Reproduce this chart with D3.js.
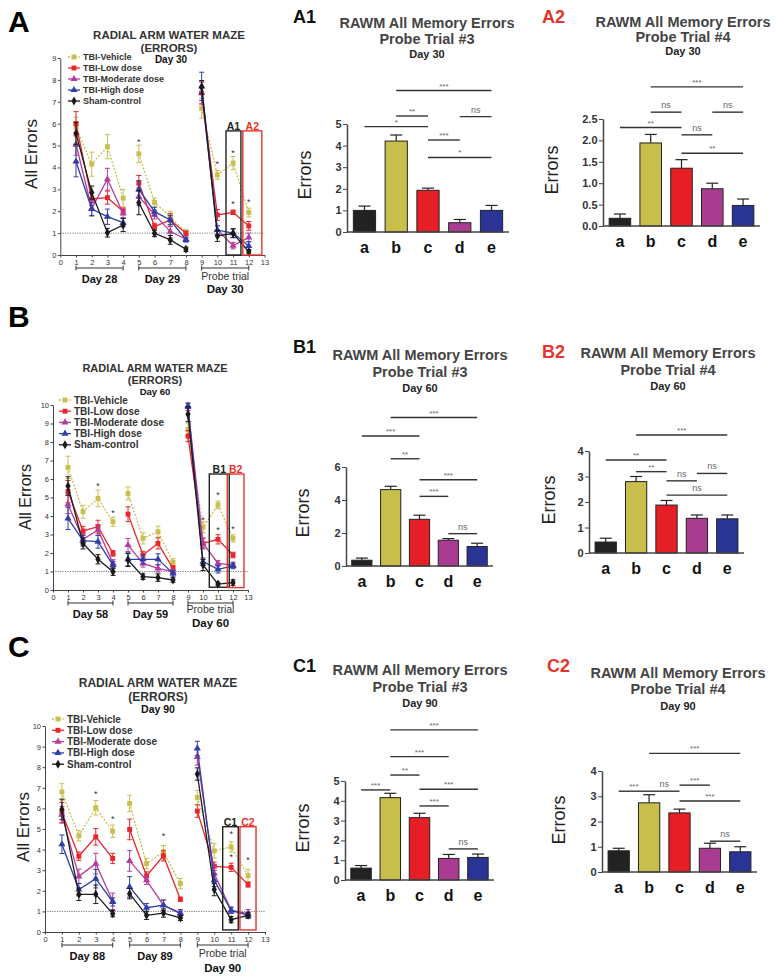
<!DOCTYPE html>
<html>
<head>
<meta charset="utf-8">
<script src="https://cdn.jsdelivr.net/npm/d3@7"></script>
<style>
body { margin: 0; background: #fff; }
svg { display: block; font-family: Arial, "Liberation Sans", sans-serif; }
</style>
</head>
<body>
<script>
// ---- data ----
var groupNames = ["TBI-Vehicle", "TBI-Low dose", "TBI-Moderate dose", "TBI-High dose", "Sham-control"];
var sessions = [1, 2, 3, 4, 5, 6, 7, 8, 9, 10, 11, 12];

// panel A (day 28-30)
var A_vehicle = [5.85, 4.15, 4.95, 2.6, 4.62, 2.4, 1.75, 1.02, 6.7, 3.66, 4.2, 1.94];
var A_vehicleErr = [0.45, 0.55, 0.55, 0.4, 0.4, 0.2, 0.25, 0.15, 0.45, 0.2, 0.3, 0.2];
var A_low = [6.0, 2.56, 2.62, 2.0, 3.28, 1.3, 1.6, 0.99, 7.4, 1.83, 1.95, 1.33];
var A_lowErr = [0.55, 0.3, 0.3, 0.15, 0.35, 0.15, 0.3, 0.1, 0.5, 0.25, 0.1, 0.2];
var A_moderate = [5.06, 2.13, 3.46, 1.9, 2.67, 1.85, 1.07, 0.72, 7.4, 1.14, 0.43, 0.8];
var A_moderateErr = [0.5, 0.35, 0.5, 0.2, 0.4, 0.2, 0.3, 0.1, 0.5, 0.2, 0.15, 0.2];
var A_high = [4.27, 2.1, 1.75, 1.48, 3.0, 1.98, 1.6, 0.69, 7.7, 1.14, 1.0, 0.41];
var A_highErr = [0.7, 0.3, 0.35, 0.2, 0.4, 0.2, 0.2, 0.1, 0.65, 0.2, 0.2, 0.2];
var A_sham = [5.56, 2.85, 1.02, 1.37, 2.39, 0.99, 0.69, 0.26, 7.67, 0.87, 0.99, 0.15];
var A_shamErr = [0.5, 0.3, 0.2, 0.3, 0.55, 0.15, 0.2, 0.1, 0.3, 0.25, 0.2, 0.1];
var A_stars = [[5, 5.26], [10, 4.24], [11, 4.73], [11, 2.44], [12, 2.5]];
var A_days = ["Day 28", "Day 29", "Day 30"];

// panel B (day 58-60)
var B_vehicle = [6.63, 4.23, 4.95, 3.69, 5.22, 2.79, 3.15, 1.5, 8.68, 3.39, 4.6, 2.79];
var B_vehicleErr = [0.6, 0.35, 0.45, 0.25, 0.35, 0.3, 0.3, 0.2, 0.35, 0.3, 0.2, 0.2];
var B_low = [5.32, 3.19, 3.42, 1.98, 4.1, 1.89, 2.52, 1.17, 8.32, 2.52, 2.74, 1.89];
var B_lowErr = [0.6, 0.25, 0.35, 0.15, 0.4, 0.2, 0.3, 0.15, 0.3, 0.25, 0.25, 0.15];
var B_moderate = [4.63, 2.74, 3.24, 1.44, 2.43, 1.44, 1.17, 0.99, 9.9, 2.52, 1.44, 1.35];
var B_moderateErr = [0.5, 0.3, 0.3, 0.2, 0.35, 0.2, 0.2, 0.1, 0.2, 0.3, 0.15, 0.15];
var B_high = [3.87, 2.67, 2.61, 1.35, 1.66, 1.66, 1.66, 0.9, 9.95, 1.53, 1.12, 1.3];
var B_highErr = [0.6, 0.3, 0.35, 0.2, 0.35, 0.25, 0.3, 0.15, 0.15, 0.2, 0.2, 0.15];
var B_sham = [5.62, 2.52, 1.66, 0.99, 1.62, 0.72, 0.67, 0.54, 9.5, 1.35, 0.32, 0.4];
var B_shamErr = [0.5, 0.3, 0.25, 0.2, 0.35, 0.15, 0.2, 0.12, 0.4, 0.3, 0.1, 0.15];
var B_stars = [[3, 5.73], [4, 4.29], [10, 3.87], [11, 5.26], [11, 3.33], [12, 3.42]];
var B_days = ["Day 58", "Day 59", "Day 60"];

// panel C (day 88-90)
var C_vehicle = [6.8, 4.67, 6.03, 4.89, 6.24, 3.32, 3.89, 2.35, 6.53, 3.94, 4.13, 2.74];
var C_vehicleErr = [0.4, 0.25, 0.35, 0.3, 0.4, 0.25, 0.3, 0.25, 0.35, 0.35, 0.25, 0.3];
var C_low = [5.79, 3.68, 4.62, 3.57, 4.98, 2.72, 3.7, 1.59, 5.87, 3.19, 3.14, 2.3];
var C_lowErr = [0.5, 0.2, 0.4, 0.25, 0.5, 0.2, 0.25, 0.1, 0.3, 0.2, 0.2, 0.12];
var C_moderate = [5.7, 2.7, 3.32, 1.49, 3.45, 2.51, 1.3, 0.89, 8.5, 2.84, 1.05, 0.89];
var C_moderateErr = [0.4, 0.35, 0.5, 0.4, 0.5, 0.2, 0.25, 0.2, 0.4, 0.4, 0.15, 0.2];
var C_high = [4.26, 2.06, 2.59, 1.46, 2.19, 1.18, 1.3, 0.92, 8.91, 2.51, 1.05, 0.81];
var C_highErr = [0.45, 0.3, 0.45, 0.2, 0.5, 0.2, 0.25, 0.15, 0.35, 0.3, 0.15, 0.15];
var C_sham = [5.95, 1.83, 1.83, 0.89, 1.86, 0.81, 0.92, 0.68, 7.67, 2.06, 0.6, 0.81];
var C_shamErr = [0.5, 0.3, 0.45, 0.15, 0.25, 0.2, 0.2, 0.12, 0.3, 0.3, 0.15, 0.12];
var C_stars = [[3, 6.8], [4, 5.6], [7, 4.75], [11, 4.86], [11, 3.73], [12, 3.57]];
var C_days = ["Day 88", "Day 89", "Day 90"];

// bar panels: groups a..e
var barGroups = ["a", "b", "c", "d", "e"];
var A1_means = [1.0, 4.21, 1.93, 0.43, 1.0];
var A1_sem = [0.2, 0.28, 0.1, 0.15, 0.23];
var A1_sig = [["b", "e", 6.55, "***"], ["b", "c", 5.37, "**"], ["d", "e", 5.34, "ns"], ["a", "c", 4.88, "*"], ["c", "d", 4.26, "***"], ["c", "e", 3.45, "*"]];
var A2_means = [0.18, 1.94, 1.35, 0.87, 0.48];
var A2_sem = [0.1, 0.2, 0.2, 0.13, 0.15];
var A2_sig = [["b", "e", 3.25, "***"], ["b", "c", 2.66, "ns"], ["d", "e", 2.66, "ns"], ["a", "c", 2.3, "**"], ["c", "d", 2.13, "ns"], ["c", "e", 1.7, "**"]];
var B1_means = [0.35, 4.63, 2.83, 1.56, 1.18];
var B1_sem = [0.13, 0.2, 0.25, 0.1, 0.2];
var B1_sig = [["b", "e", 9.0, "***"], ["a", "c", 7.88, "***"], ["b", "c", 6.5, "**"], ["c", "e", 5.23, "***"], ["c", "d", 4.22, "***"], ["d", "e", 1.96, "ns"]];
var B2_means = [0.43, 2.8, 1.88, 1.36, 1.34];
var B2_sem = [0.15, 0.2, 0.18, 0.13, 0.15];
var B2_sig = [["b", "e", 4.63, "***"], ["a", "c", 3.65, "**"], ["b", "c", 3.19, "**"], ["c", "d", 2.83, "ns"], ["d", "e", 3.12, "ns"], ["c", "e", 2.27, "ns"]];
var C1_means = [0.6, 4.16, 3.15, 1.09, 1.14];
var C1_sem = [0.13, 0.22, 0.22, 0.2, 0.17];
var C1_sig = [["b", "e", 7.58, "***"], ["b", "d", 6.23, "***"], ["b", "c", 5.3, "**"], ["a", "b", 4.55, "***"], ["c", "e", 4.58, "***"], ["c", "d", 3.74, "***"], ["d", "e", 1.57, "ns"]];
var C2_means = [0.84, 2.74, 2.34, 0.94, 0.8];
var C2_sem = [0.1, 0.32, 0.15, 0.2, 0.2];
var C2_sig = [["b", "e", 4.7, "***"], ["a", "b", 3.2, "***"], ["b", "c", 3.2, "ns"], ["c", "d", 3.44, "***"], ["c", "e", 2.81, "***"], ["d", "e", 1.22, "ns"]];

// ---- styles ----
var groupStyles = [
  { color: "#c9bf4e", shape: d3.symbolSquare, size: 24, dash: "2,1.6" },
  { color: "#e8262b", shape: d3.symbolSquare, size: 24, dash: null },
  { color: "#b23d9c", shape: d3.symbolTriangle, size: 22, dash: null },
  { color: "#2f3ea8", shape: d3.symbolTriangle, size: 22, dash: null },
  { color: "#1a1a1a", shape: d3.symbolDiamond, size: 24, dash: null }
];
var barColors = ["#222222", "#c8be4b", "#e61e25", "#a93c91", "#2a3494"];
var redLabel = "#e5352b";
var blocks = [[1, 4], [5, 8], [9, 12]];

var svg = d3.select("body").append("svg").attr("width", 778).attr("height", 979);
svg.append("rect").attr("width", 778).attr("height", 979).attr("fill", "#fff");

function styleAxis(a, fs) {
  a.selectAll("text").attr("font-size", fs).attr("fill", "#333").attr("font-family", "Arial, 'Liberation Sans', sans-serif");
  a.selectAll("path, line").attr("stroke", "#444");
}

function linePanel(p) {
  var x = d3.scaleLinear().domain([0, 13]).range([p.x0, p.x1]);
  var y = d3.scaleLinear().domain([0, p.ymax]).range([p.y0, p.yTop]);
  var g = svg.append("g");

  g.append("text").attr("x", 8).attr("y", p.letterY).attr("font-size", 30).attr("font-weight", "bold").text(p.letter);

  // titles
  g.append("text").attr("x", p.titleX).attr("y", p.titleY[0]).attr("text-anchor", "middle")
    .attr("font-size", p.titleSize).attr("font-weight", "bold").attr("fill", "#333").text("RADIAL ARM WATER MAZE");
  g.append("text").attr("x", p.titleX).attr("y", p.titleY[1]).attr("text-anchor", "middle")
    .attr("font-size", p.titleSize).attr("font-weight", "bold").attr("fill", "#333").text("(ERRORS)");
  g.append("text").attr("x", p.dayX).attr("y", p.titleY[2]).attr("text-anchor", "middle")
    .attr("font-size", p.daySize).attr("font-weight", "bold").attr("fill", "#111").text(p.days[2]);

  // reference line at 1 error
  g.append("line").attr("x1", x(0)).attr("x2", x(13)).attr("y1", y(1)).attr("y2", y(1))
    .attr("stroke", "#555").attr("stroke-width", 0.8).attr("stroke-dasharray", "1.2,1.2");

  var ax = g.append("g").attr("transform", "translate(0," + p.y0 + ")")
    .call(d3.axisBottom(x).tickValues(d3.range(0, 14)).tickSize(2.5).tickSizeOuter(0).tickPadding(2));
  var ay = g.append("g").attr("transform", "translate(" + p.x0 + ",0)")
    .call(d3.axisLeft(y).tickValues(d3.range(0, p.ymax + 1)).tickSize(2.5).tickSizeOuter(0).tickPadding(1.5));
  styleAxis(ax, 7.5);
  styleAxis(ay, 7.5);

  g.append("text").attr("transform", "translate(" + p.labelX + "," + p.labelY + ") rotate(-90)")
    .attr("text-anchor", "middle").attr("dominant-baseline", "central")
    .attr("font-size", p.labelSize).attr("fill", "#222").text("All Errors");

  // series
  p.series.forEach(function (s, i) {
    var st = groupStyles[i];
    var pts = sessions.map(function (d, k) { return { x: d, v: s[0][k], e: s[1][k] }; });
    blocks.forEach(function (b) {
      var seg = pts.filter(function (d) { return d.x >= b[0] && d.x <= b[1]; });
      g.append("path").datum(seg)
        .attr("d", d3.line().x(function (d) { return x(d.x); }).y(function (d) { return y(d.v); }))
        .attr("fill", "none").attr("stroke", st.color).attr("stroke-width", 1.3)
        .attr("stroke-dasharray", st.dash);
    });
    var eb = g.append("g").attr("stroke", st.color).attr("stroke-width", 1);
    pts.forEach(function (d) {
      eb.append("line").attr("x1", x(d.x)).attr("x2", x(d.x)).attr("y1", y(d.v - d.e)).attr("y2", y(d.v + d.e));
      eb.append("line").attr("x1", x(d.x) - 2.5).attr("x2", x(d.x) + 2.5).attr("y1", y(d.v + d.e)).attr("y2", y(d.v + d.e));
      eb.append("line").attr("x1", x(d.x) - 2.5).attr("x2", x(d.x) + 2.5).attr("y1", y(d.v - d.e)).attr("y2", y(d.v - d.e));
    });
    g.selectAll(null).data(pts).join("path")
      .attr("transform", function (d) { return "translate(" + x(d.x) + "," + y(d.v) + ")"; })
      .attr("d", d3.symbol().type(st.shape).size(st.size))
      .attr("fill", st.color);
  });

  // stars
  g.selectAll(null).data(p.stars).join("text")
    .attr("x", function (d) { return x(d[0]); }).attr("y", function (d) { return y(d[1]) + 5; })
    .attr("text-anchor", "middle").attr("font-size", 9).attr("fill", "#333").text("*");

  // highlight boxes
  p.boxes.forEach(function (b, i) {
    var col = i === 0 ? "#222" : redLabel;
    g.append("rect").attr("x", x(b[0])).attr("y", y(b[2]))
      .attr("width", x(b[1]) - x(b[0])).attr("height", y(b[3]) - y(b[2]))
      .attr("fill", "none").attr("stroke", col).attr("stroke-width", 1.4);
    g.append("text").attr("x", (x(b[0]) + x(b[1])) / 2).attr("y", y(b[2]) - 1)
      .attr("text-anchor", "middle").attr("font-size", 10.5).attr("font-weight", "bold")
      .attr("fill", col).text(p.letter + (i + 1));
  });

  // legend
  var lg = g.append("g");
  groupNames.forEach(function (n, i) {
    var st = groupStyles[i];
    var ly = p.legY + i * p.legStep;
    lg.append("line").attr("x1", p.legX - 6).attr("x2", p.legX + 6).attr("y1", ly).attr("y2", ly)
      .attr("stroke", st.color).attr("stroke-width", 1.3).attr("stroke-dasharray", st.dash);
    lg.append("path").attr("transform", "translate(" + p.legX + "," + ly + ")")
      .attr("d", d3.symbol().type(st.shape).size(st.size)).attr("fill", st.color);
    lg.append("text").attr("x", p.legX + 9).attr("y", ly).attr("dy", "0.35em")
      .attr("font-size", p.legSize).attr("font-weight", "bold").attr("fill", "#333").text(n);
  });

  // session brackets
  blocks.forEach(function (b, i) {
    var bg = g.append("g").attr("stroke", "#333").attr("stroke-width", 1);
    bg.append("line").attr("x1", x(b[0])).attr("x2", x(b[1])).attr("y1", p.brY).attr("y2", p.brY);
    bg.append("line").attr("x1", x(b[0])).attr("x2", x(b[0])).attr("y1", p.brY - 2.5).attr("y2", p.brY + 2.5);
    bg.append("line").attr("x1", x(b[1])).attr("x2", x(b[1])).attr("y1", p.brY - 2.5).attr("y2", p.brY + 2.5);
    var cx = x((b[0] + b[1]) / 2);
    if (i < 2) {
      g.append("text").attr("x", cx).attr("y", p.dayY).attr("text-anchor", "middle")
        .attr("font-size", 11).attr("font-weight", "bold").attr("fill", "#111").text(p.days[i]);
    } else {
      g.append("text").attr("x", cx).attr("y", p.probeY).attr("text-anchor", "middle")
        .attr("font-size", 10.5).attr("fill", "#333").text("Probe trial");
      g.append("text").attr("x", cx).attr("y", p.lastDayY).attr("text-anchor", "middle")
        .attr("font-size", 11.5).attr("font-weight", "bold").attr("fill", "#111").text(p.days[i]);
    }
  });
}

function barPanel(p) {
  var x = d3.scaleBand().domain(barGroups).range([p.xl, p.xr]).paddingInner(0.3).paddingOuter(0.2);
  var y = d3.scaleLinear().domain([0, p.ymax]).range([p.y0, p.yTop]);
  var g = svg.append("g");
  var rows = barGroups.map(function (k, i) { return { k: k, v: p.means[i], e: p.sem[i], c: barColors[i] }; });

  g.append("text").attr("x", p.tagX).attr("y", p.tagY).attr("font-size", 18).attr("font-weight", "bold")
    .attr("fill", p.tagRed ? redLabel : "#111").text(p.tag);
  g.append("text").attr("x", p.titleX).attr("y", p.titleY[0]).attr("text-anchor", "middle")
    .attr("font-size", 14.5).attr("font-weight", "bold").attr("fill", "#444").text("RAWM All Memory Errors");
  g.append("text").attr("x", p.titleX).attr("y", p.titleY[1]).attr("text-anchor", "middle")
    .attr("font-size", 14.5).attr("font-weight", "bold").attr("fill", "#444").text(p.trial);
  g.append("text").attr("x", p.titleX).attr("y", p.titleY[2]).attr("text-anchor", "middle")
    .attr("font-size", 11).attr("font-weight", "bold").attr("fill", "#222").text(p.day);

  g.selectAll(null).data(rows).join("rect")
    .attr("x", function (d) { return x(d.k); }).attr("y", function (d) { return y(d.v); })
    .attr("width", x.bandwidth()).attr("height", function (d) { return p.y0 - y(d.v); })
    .attr("fill", function (d) { return d.c; }).attr("stroke", "#222").attr("stroke-width", 1);

  var eb = g.append("g").attr("stroke", "#222").attr("stroke-width", 1.2);
  rows.forEach(function (d) {
    var cx = x(d.k) + x.bandwidth() / 2;
    eb.append("line").attr("x1", cx).attr("x2", cx).attr("y1", y(d.v)).attr("y2", y(d.v + d.e));
    eb.append("line").attr("x1", cx - 6).attr("x2", cx + 6).attr("y1", y(d.v + d.e)).attr("y2", y(d.v + d.e));
  });

  g.append("line").attr("x1", p.xl).attr("x2", p.xr).attr("y1", p.y0).attr("y2", p.y0)
    .attr("stroke", "#444").attr("stroke-width", 1.5);
  var ay = g.append("g").attr("transform", "translate(" + p.xl + ",0)")
    .call(d3.axisLeft(y).tickValues(p.ticks).tickFormat(d3.format(p.fmt)).tickSize(4).tickSizeOuter(0).tickPadding(1.5));
  styleAxis(ay, 11);
  ay.selectAll("text").attr("font-weight", "bold");
  ay.select(".domain").attr("stroke-width", 1.5);

  g.selectAll(null).data(rows).join("text")
    .attr("x", function (d) { return x(d.k) + x.bandwidth() / 2; }).attr("y", p.y0 + 21)
    .attr("text-anchor", "middle").attr("font-size", 16).attr("font-weight", "bold").attr("fill", "#111")
    .text(function (d) { return d.k; });

  g.append("text").attr("transform", "translate(" + p.labelX + "," + p.labelY + ") rotate(-90)")
    .attr("text-anchor", "middle").attr("dominant-baseline", "central")
    .attr("font-size", 18).attr("fill", "#222").text("Errors");

  p.sig.forEach(function (s) {
    var x1 = x(s[0]) + x.bandwidth() / 2, x2 = x(s[1]) + x.bandwidth() / 2, yy = y(s[2]);
    g.append("line").attr("x1", x1).attr("x2", x2).attr("y1", yy).attr("y2", yy)
      .attr("stroke", "#333").attr("stroke-width", 1.4);
    g.append("text").attr("x", (x1 + x2) / 2).attr("y", s[3] === "ns" ? yy - 4 : yy - 2)
      .attr("text-anchor", "middle").attr("font-size", s[3] === "ns" ? 9 : 8).attr("fill", "#666").text(s[3]);
  });
}

linePanel({
  letter: "A", letterY: 32, days: A_days, stars: A_stars,
  series: [[A_vehicle, A_vehicleErr], [A_low, A_lowErr], [A_moderate, A_moderateErr], [A_high, A_highErr], [A_sham, A_shamErr]],
  x0: 60.3, x1: 264.5, y0: 255, yTop: 58, ymax: 9,
  titleX: 169, titleY: [39, 52, 63], titleSize: 11.5, dayX: 171, daySize: 10,
  legX: 74, legY: 57, legStep: 11, legSize: 9,
  labelX: 31, labelY: 154, labelSize: 17,
  brY: 268, dayY: 283, probeY: 280, lastDayY: 293,
  boxes: [[10.55, 11.5, 5.67, 0], [11.62, 12.83, 5.67, 0]]
});
linePanel({
  letter: "B", letterY: 327, days: B_days, stars: B_stars,
  series: [[B_vehicle, B_vehicleErr], [B_low, B_lowErr], [B_moderate, B_moderateErr], [B_high, B_highErr], [B_sham, B_shamErr]],
  x0: 53, x1: 248, y0: 590, yTop: 405, ymax: 10,
  titleX: 155, titleY: [372, 384, 395], titleSize: 11, dayX: 155, daySize: 9.5,
  legX: 65, legY: 400, legStep: 11.2, legSize: 10,
  labelX: 25, labelY: 497, labelSize: 16,
  brY: 603, dayY: 618, probeY: 613, lastDayY: 627,
  boxes: [[10.42, 11.75, 6.27, 0.15], [11.62, 12.73, 6.27, 0.13]]
});
linePanel({
  letter: "C", letterY: 657, days: C_days, stars: C_stars,
  series: [[C_vehicle, C_vehicleErr], [C_low, C_lowErr], [C_moderate, C_moderateErr], [C_high, C_highErr], [C_sham, C_shamErr]],
  x0: 45, x1: 265, y0: 932, yTop: 726, ymax: 10,
  titleX: 158, titleY: [687, 700.5, 713], titleSize: 12, dayX: 158, daySize: 10.5,
  legX: 58, legY: 719, legStep: 11.3, legSize: 10,
  labelX: 23, labelY: 827, labelSize: 17,
  brY: 945, dayY: 960, probeY: 957, lastDayY: 972,
  boxes: [[10.5, 11.42, 5.11, 0.1], [11.52, 12.47, 5.11, 0.1]]
});

barPanel({ tag: "A1", tagX: 293, tagY: 23, tagRed: false, trial: "Probe Trial #3", day: "Day 30",
  means: A1_means, sem: A1_sem, sig: A1_sig, xl: 347, xr: 509, y0: 232, yTop: 124, ymax: 5,
  ticks: [0, 1, 2, 3, 4, 5], fmt: "d", titleX: 427, titleY: [28, 44, 58], labelX: 305, labelY: 175 });
barPanel({ tag: "A2", tagX: 542, tagY: 23, tagRed: true, trial: "Probe Trial #4", day: "Day 30",
  means: A2_means, sem: A2_sem, sig: A2_sig, xl: 603, xr: 760, y0: 226, yTop: 119, ymax: 2.5,
  ticks: [0, 0.5, 1, 1.5, 2, 2.5], fmt: ".1f", titleX: 683, titleY: [27, 42, 55], labelX: 552, labelY: 170 });
barPanel({ tag: "B1", tagX: 293, tagY: 353, tagRed: false, trial: "Probe Trial #3", day: "Day 60",
  means: B1_means, sem: B1_sem, sig: B1_sig, xl: 346, xr: 493, y0: 566, yTop: 467, ymax: 6,
  ticks: [0, 2, 4, 6], fmt: "d", titleX: 420, titleY: [360, 377, 392], labelX: 303, labelY: 513 });
barPanel({ tag: "B2", tagX: 542, tagY: 358, tagRed: true, trial: "Probe Trial #4", day: "Day 60",
  means: B2_means, sem: B2_sem, sig: B2_sig, xl: 589, xr: 744, y0: 553, yTop: 451, ymax: 4,
  ticks: [0, 1, 2, 3, 4], fmt: "d", titleX: 668, titleY: [358, 375, 390], labelX: 549, labelY: 500 });
barPanel({ tag: "C1", tagX: 293, tagY: 672, tagRed: false, trial: "Probe Trial #3", day: "Day 90",
  means: C1_means, sem: C1_sem, sig: C1_sig, xl: 345, xr: 494, y0: 880, yTop: 781, ymax: 5,
  ticks: [0, 1, 2, 3, 4, 5], fmt: "d", titleX: 420, titleY: [675, 692, 707], labelX: 303, labelY: 828 });
barPanel({ tag: "C2", tagX: 547, tagY: 672, tagRed: true, trial: "Probe Trial #4", day: "Day 90",
  means: C2_means, sem: C2_sem, sig: C2_sig, xl: 602, xr: 757, y0: 872, yTop: 771, ymax: 4,
  ticks: [0, 1, 2, 3, 4], fmt: "d", titleX: 678, titleY: [678, 694, 710], labelX: 559, labelY: 820 });
</script>
</body>
</html>
